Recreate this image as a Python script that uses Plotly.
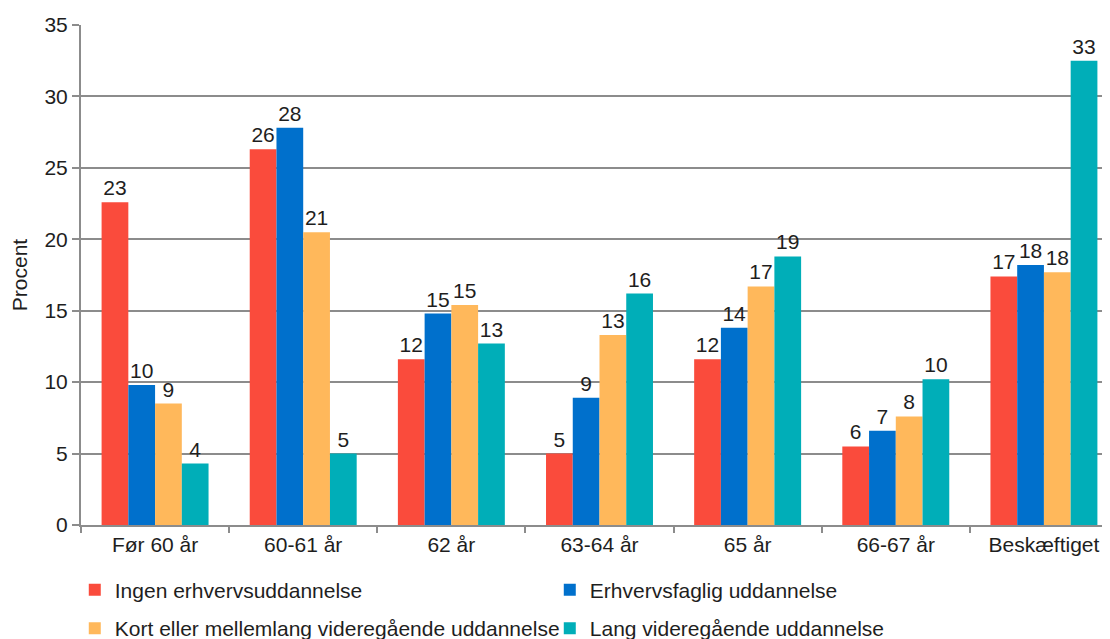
import plotly.graph_objects as go

categories = ["Før 60 år", "60-61 år", "62 år", "63-64 år", "65 år", "66-67 år", "Beskæftiget"]
series_names = [
    "Ingen erhvervsuddannelse",
    "Erhvervsfaglig uddannelse",
    "Kort eller mellemlang videregående uddannelse",
    "Lang videregående uddannelse",
]
ingen = [22.6, 26.3, 11.6, 5.0, 11.6, 5.5, 17.4]
erhvervsfaglig = [9.8, 27.8, 14.8, 8.9, 13.8, 6.6, 18.2]
kort_mellemlang = [8.5, 20.5, 15.4, 13.3, 16.7, 7.6, 17.7]
lang = [4.3, 5.0, 12.7, 16.2, 18.8, 10.2, 32.5]
colors = ["#FA4B3C", "#0070CC", "#FFB85B", "#00AEB8"]
legend_rows = ["legend", "legend", "legend2", "legend2"]

series_values = [ingen, erhvervsfaglig, kort_mellemlang, lang]

font_family = "Liberation Sans, Arial, sans-serif"
text_color = "#1E1E1E"
fs = 21

fig = go.Figure()
for name, vals, col, lg in zip(series_names, series_values, colors, legend_rows):
    fig.add_trace(go.Bar(
        x=categories, y=vals, name=name,
        marker=dict(color=col, line=dict(width=0)),
        text=[str(int(v + 0.5)) for v in vals],
        textposition="outside",
        textfont=dict(size=fs, color=text_color, family=font_family),
        cliponaxis=False,
        legend=lg,
    ))

legend_common = dict(
    orientation="h", xanchor="left", yanchor="middle",
    entrywidth=430, entrywidthmode="pixels",
    font=dict(size=fs, color=text_color, family=font_family),
    bgcolor="rgba(0,0,0,0)",
)

fig.update_layout(
    width=1110, height=639,
    margin=dict(l=73, r=0, t=17, b=122, autoexpand=False),
    paper_bgcolor="white", plot_bgcolor="white",
    barmode="group", bargap=0.278, bargroupgap=0,
    font=dict(family=font_family, size=fs, color=text_color),
    showlegend=True,
    legend=dict(x=-0.006, y=-0.13, **legend_common),
    legend2=dict(x=-0.006, y=-0.207, **legend_common),
    xaxis=dict(
        showline=True, linecolor="#8C8C8C", linewidth=2,
        ticks="outside", tickson="boundaries", ticklen=6, tickcolor="#8C8C8C", tickwidth=2,
        tickfont=dict(size=fs, color=text_color),
        showgrid=False,
    ),
    yaxis=dict(
        range=[0, 35], dtick=5,
        showline=True, linecolor="#8C8C8C", linewidth=2,
        ticks="outside", ticklen=7, tickcolor="#8C8C8C", tickwidth=2,
        showgrid=True, gridcolor="#8C8C8C", gridwidth=2,
        tickfont=dict(size=fs, color=text_color),
        title=dict(text="Procent", font=dict(size=fs, color=text_color), standoff=14),
        zeroline=False,
    ),
)

fig.write_html("out.html")
